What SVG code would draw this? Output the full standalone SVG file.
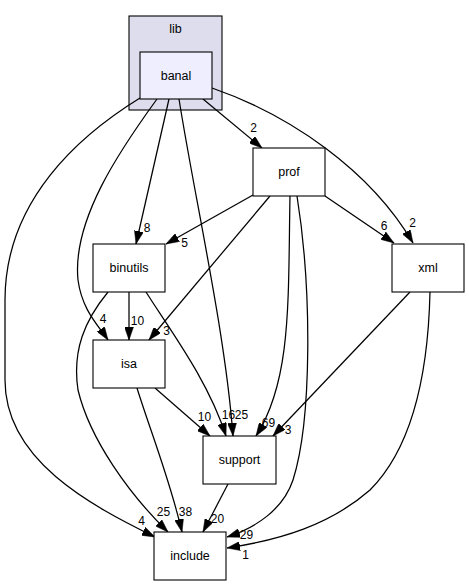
<svg xmlns="http://www.w3.org/2000/svg" width="469" height="585" viewBox="0 0 469 585">
<defs>
<style>
.node rect{fill:#ffffff;stroke:#000000;stroke-width:1.1}
.nt{font-family:"Liberation Sans",Arial,sans-serif;font-size:12.5px;text-anchor:middle;fill:#000000}
.et{font-family:"Liberation Sans",Arial,sans-serif;font-size:12px;text-anchor:middle;fill:#000000}
.edges path{fill:none;stroke:#000000;stroke-width:1.25;marker-end:url(#arr)}
</style>
<marker id="arr" viewBox="0 0 13 9" refX="13" refY="4.5" markerWidth="13" markerHeight="9" markerUnits="userSpaceOnUse" orient="auto">
<path d="M0,0 L13,4.5 L0,9 z" fill="#000000" stroke="#000000" stroke-width="0.5"/>
</marker>
</defs>
<rect width="469" height="585" fill="#ffffff"/>
<g id="cluster_lib">
<rect x="129" y="16" width="93" height="94" fill="#ddddee" stroke="#000000" stroke-width="1.1"/>
<text class="nt" x="175.5" y="33">lib</text>
</g>
<g id="edges" class="edges">
<path d="M140,98 C80,135 5,200 5,300 L5,380 C5,460 90,505 155,537"/>
<path d="M157,99 C120,150 72,220 78,280 C82,310 98,325 108,340"/>
<path d="M169,99 L136,244"/>
<path d="M179,99 C195,200 225,330 233,436"/>
<path d="M203,99 L262,148"/>
<path d="M212,88 C290,115 370,170 413,243"/>
<path d="M253,195 L166,244"/>
<path d="M270,196 L149,340"/>
<path d="M290,196 C288,300 292,380 256,436"/>
<path d="M297,196 C312,290 312,420 293,480 C283,510 255,528 227,537"/>
<path d="M325,196 L394,243"/>
<path d="M430,292 C428,380 410,450 370,490 C330,525 280,540 227,548"/>
<path d="M410,292 L273,436"/>
<path d="M129,292 L129,340"/>
<path d="M146,292 C170,330 208,380 226,436"/>
<path d="M108,292 C85,320 72,350 78,390 C90,440 130,495 168,532"/>
<path d="M155,388 L210,436"/>
<path d="M137,388 C150,430 170,480 182,532"/>
<path d="M228,484 L203,532"/>
</g>
<g id="edge_labels">
<text class="et" x="253.5" y="132">2</text>
<text class="et" x="147" y="232">8</text>
<text class="et" x="184.5" y="247">5</text>
<text class="et" x="384" y="230">6</text>
<text class="et" x="412.5" y="227">2</text>
<text class="et" x="103" y="323">4</text>
<text class="et" x="137.5" y="325">10</text>
<text class="et" x="166.5" y="335">3</text>
<text class="et" x="204.5" y="421">10</text>
<text class="et" x="228.5" y="419">16</text>
<text class="et" x="241.5" y="419">25</text>
<text class="et" x="268.5" y="427">69</text>
<text class="et" x="288" y="434">3</text>
<text class="et" x="163.5" y="516">25</text>
<text class="et" x="185.5" y="516">38</text>
<text class="et" x="217.5" y="523">20</text>
<text class="et" x="246.5" y="539">29</text>
<text class="et" x="245.5" y="559">1</text>
<text class="et" x="141.5" y="525">4</text>
</g>
<g id="node_banal" class="node">
<rect x="140" y="52" width="72" height="47" style="fill:#eeeeff"/>
<text class="nt" x="176" y="80">banal</text>
</g>
<g id="node_prof" class="node">
<rect x="253" y="148" width="72" height="48"/>
<text class="nt" x="289" y="176">prof</text>
</g>
<g id="node_xml" class="node">
<rect x="392" y="244" width="72" height="48"/>
<text class="nt" x="428" y="272">xml</text>
</g>
<g id="node_binutils" class="node">
<rect x="93" y="244" width="72" height="48"/>
<text class="nt" x="129" y="272">binutils</text>
</g>
<g id="node_isa" class="node">
<rect x="93" y="340" width="72" height="48"/>
<text class="nt" x="129" y="368">isa</text>
</g>
<g id="node_support" class="node">
<rect x="203" y="436" width="73" height="48"/>
<text class="nt" x="239.5" y="464">support</text>
</g>
<g id="node_include" class="node">
<rect x="154" y="532" width="72" height="48"/>
<text class="nt" x="190" y="560">include</text>
</g>
</svg>
